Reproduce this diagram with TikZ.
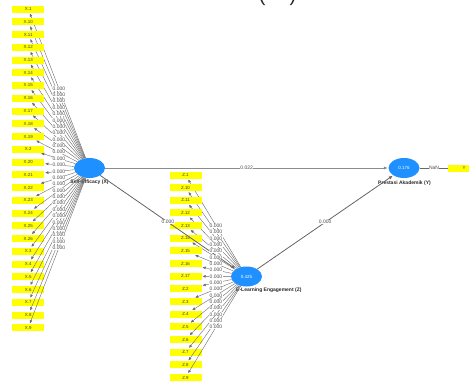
\documentclass[tikz,border=0pt]{standalone}
\usepackage{fontspec}
\setmainfont{Liberation Sans}
\usetikzlibrary{arrows.meta,shapes.geometric}
\definecolor{lvblue}{RGB}{30,144,255}
\definecolor{indyellow}{RGB}{255,255,0}
\definecolor{pathgray}{RGB}{100,100,100}
\definecolor{loadgray}{RGB}{105,105,105}

\tikzset{
  indicator/.style={fill=indyellow, minimum width=32pt, minimum height=7pt,
    inner sep=0pt, font=\fontsize{4.4}{5}\selectfont, text=black!75},
  latent/.style={ellipse, fill=lvblue, minimum width=31pt, minimum height=20pt,
    inner sep=0pt, font=\fontsize{4.5}{5}\selectfont, text=white},
  lvname/.style={font=\bfseries\fontsize{5}{6}\selectfont, text=black!85, inner sep=0pt},
  loading/.style={draw=loadgray, line width=0.4pt,
    -{Latex[length=3.2pt,width=2.8pt]}, shorten >=0.8pt},
  structural/.style={draw=pathgray, line width=0.8pt,
    -{Latex[length=4pt,width=3.4pt]}, shorten >=0.5pt},
  coef/.style={fill=white, inner sep=0.3pt, text=black!70,
    font=\fontsize{5}{5}\selectfont},
}

\begin{document}
\begin{tikzpicture}[x=1pt,y=-1pt]
\useasboundingbox (0,0) rectangle (469,383);
\clip (0,0) rectangle (469,383);

% caption parentheses at the upper edge
\node[anchor=base, font=\fontsize{20}{20}\selectfont, text=black!85, inner sep=0pt]
  (cap) at (277.5,1) {(\hspace{24pt})};

% latent variables
\node[latent] (X) at (89.5,168) {};
\node[latent] (Z) at (246.5,276.5) {0.425};
\node[latent] (Y) at (404,168) {0.176};

\node[lvname] (Xname) at (89.5,182.5) {Self-Efficacy (X)};
\node[lvname] (Yname) at (404.5,183) {Prestasi Akademik (Y)};
\node[lvname, anchor=west] (Zname) at (236,290.5) {E-Learning Engagement (Z)};

% indicators of X
\foreach \n [count=\i from 0] in {1,10,11,12,13,14,15,16,17,18,19,2,20,21,22,23,24,25,26,3,4,5,6,7,8,9} {
  \node[indicator] (x\n) at (28.2,9+12.75*\i) {X.\n};
  \draw[loading] (X) -- (x\n);
}
% indicators of Z
\foreach \n [count=\i from 0] in {1,10,11,12,13,14,15,16,17,2,3,4,5,6,7,8,9} {
  \node[indicator] (z\n) at (185.5,175+12.66*\i) {Z.\n};
  \draw[loading] (Z) -- (z\n);
}
% indicator of Y
\node[indicator] (y1) at (464,168) {Y};
\draw[draw=loadgray, line width=0.4pt] (Y) -- (y1);

% structural paths
\draw[structural, line width=1pt, draw=black!45] (X) -- (Y);
\draw[structural] (X) -- (Z);
\draw[structural] (Z) -- (Y);

% outer loadings
\foreach \n in {1,10,11,12,13,14,15,16,17,18,19,2,20,21,22,23,24,25,26,3,4,5,6,7,8,9} {
  \path (X.center) -- (x\n.center) node[coef, midway] {0.000};
}
\foreach \n in {1,10,11,12,13,14,15,16,17,2,3,4,5,6,7,8,9} {
  \path (Z.center) -- (z\n.center) node[coef, midway] {0.000};
}
\path (Y.center) -- (y1.center) node[coef, midway] {NaN};

% path coefficients
\path (X.center) -- (Y.center) node[coef, midway] {0.022};
\path (X.center) -- (Z.center) node[coef, midway] {0.000};
\path (Z.center) -- (Y.center) node[coef, midway] {0.000};
\end{tikzpicture}
\end{document}
